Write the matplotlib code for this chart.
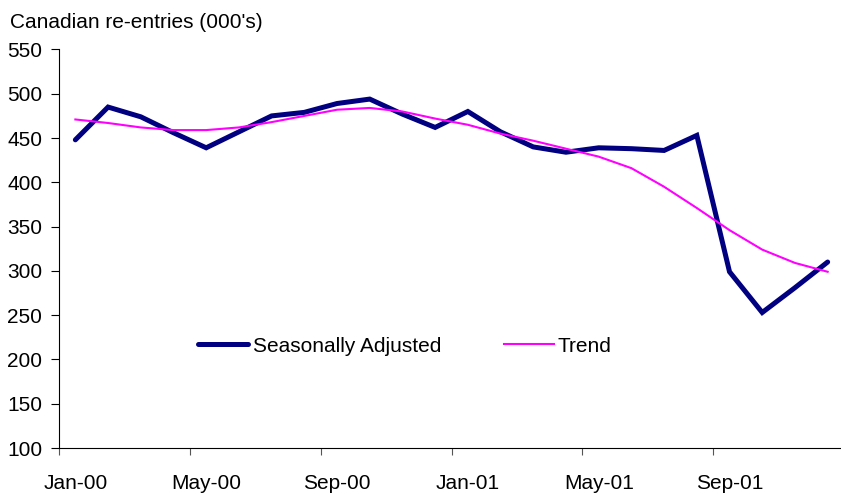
import numpy as np
import matplotlib.pyplot as plt

plt.rcParams['font.family'] = ['Liberation Sans', 'DejaVu Sans']

months = ['Jan-00', 'Feb-00', 'Mar-00', 'Apr-00', 'May-00', 'Jun-00',
          'Jul-00', 'Aug-00', 'Sep-00', 'Oct-00', 'Nov-00', 'Dec-00',
          'Jan-01', 'Feb-01', 'Mar-01', 'Apr-01', 'May-01', 'Jun-01',
          'Jul-01', 'Aug-01', 'Sep-01', 'Oct-01', 'Nov-01', 'Dec-01']

seas_adj = [448, 485, 474, 456, 439, 457, 475, 479, 489, 494, 477, 462,
            480, 457, 440, 434, 439, 438, 436, 453, 299, 253, 281, 310]

trend = [471, 467, 462, 459, 459, 462, 468, 475, 482, 484, 480, 472,
         465, 455, 447, 438, 429, 416, 395, 371, 346, 324, 309, 299]

x = np.arange(len(months))
fs = 15

fig = plt.figure(figsize=(8.41, 4.94), dpi=100)
ax = fig.add_axes([59/841, 1-448/494, 785/841, (448-49.5)/494])

ax.plot(x, seas_adj, color='#000080', lw=3.6, label='Seasonally Adjusted',
        solid_capstyle='round', solid_joinstyle='miter')
ax.plot(x, trend, color='#FF00FF', lw=1.5, label='Trend')

ax.set_xlim(-0.5, 23.5)
ax.set_ylim(100, 550)
ax.set_yticks(range(100, 551, 50))

# ticks at category boundaries, labels at category centres
ax.set_xticks(np.arange(-0.5, 24, 4))
ax.set_xticklabels([])
ax.set_xticks(x[::4], minor=True)
ax.set_xticklabels(months[::4], minor=True)
ax.tick_params(axis='x', which='major', length=5, direction='out', color='#555555')
ax.tick_params(axis='x', which='minor', length=0, pad=19, labelsize=fs)
ax.tick_params(axis='y', length=6, direction='out', pad=6, labelsize=fs)

for s in ['top', 'right']:
    ax.spines[s].set_visible(False)

fig.text(10/841, 1-22/494, "Canadian re-entries (000's)", fontsize=fs, va='center', ha='left')

ax.legend(loc='center', bbox_to_anchor=(405/841, 1-346/494), bbox_transform=fig.transFigure,
          ncol=2, frameon=False, fontsize=fs, handlelength=2.4, handletextpad=0.2,
          columnspacing=3.0)

fig.savefig('out.png', dpi=100)
